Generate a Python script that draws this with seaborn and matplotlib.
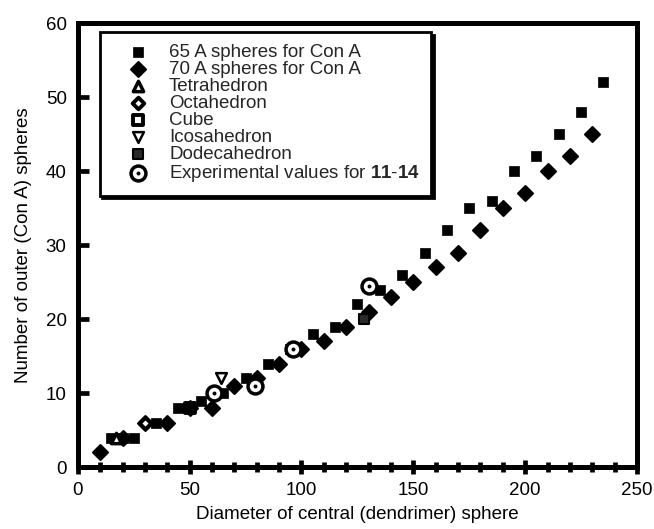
import matplotlib
matplotlib.use("Agg")
import matplotlib.pyplot as plt
from matplotlib.legend_handler import HandlerTuple
from matplotlib.ticker import MultipleLocator
import seaborn as sns

# Packing counts versus diameter of the central (dendrimer) sphere
con_a_65_x = [15, 20, 25, 35, 45, 55, 65, 75, 85, 95, 105, 115, 125, 135,
              145, 155, 165, 175, 185, 195, 205, 215, 225, 235]
con_a_65_y = [4, 4, 4, 6, 8, 9, 10, 12, 14, 16, 18, 19, 22, 24,
              26, 29, 32, 35, 36, 40, 42, 45, 48, 52]

con_a_70_x = [10, 20, 30, 40, 50, 60, 70, 80, 90, 100, 110, 120, 130, 140,
              150, 160, 170, 180, 190, 200, 210, 220, 230]
con_a_70_y = [2, 4, 6, 6, 8, 8, 11, 12, 14, 16, 17, 19, 21, 23,
              25, 27, 29, 32, 35, 37, 40, 42, 45]

tetra_x, tetra_y = [17], [4]
octa_x, octa_y = [30], [6]
cube_x, cube_y = [50], [8]
icosa_x, icosa_y = [64], [12]
dodeca_x, dodeca_y = [128], [20]

exp_x = [61, 79, 96, 130]
exp_y = [10, 11, 16, 24.5]

x_ticks = [0, 50, 100, 150, 200, 250]
y_ticks = [0, 10, 20, 30, 40, 50, 60]

sns.set_theme(style="white")
plt.rcParams["font.family"] = ["Liberation Sans", "DejaVu Sans"]
plt.rcParams["mathtext.fontset"] = "custom"
plt.rcParams["mathtext.bf"] = "Liberation Sans:bold"
plt.rcParams["mathtext.rm"] = "Liberation Sans"

FS = 13.5

fig = plt.figure(figsize=(6.54, 5.29), dpi=100)
ax = fig.add_axes([0.119, 0.117, 0.855, 0.839])

# cube drawn first so the filled markers at the same spot sit on top
sns.scatterplot(x=cube_x, y=cube_y, marker="s", color="white",
                edgecolor="black", linewidth=2.8, s=45, ax=ax,
                label="Cube", zorder=2)
sns.scatterplot(x=con_a_65_x, y=con_a_65_y, marker="s", color="black",
                edgecolor="black", linewidth=0.5, s=60, ax=ax,
                label="65 A spheres for Con A", zorder=3)
sns.scatterplot(x=con_a_70_x, y=con_a_70_y, marker="D", color="black",
                edgecolor="black", linewidth=1.5, s=58, ax=ax,
                label="70 A spheres for Con A", zorder=3)
sns.scatterplot(x=tetra_x, y=tetra_y, marker="^", color="white",
                edgecolor="black", linewidth=2.5, s=55, ax=ax,
                label="Tetrahedron", zorder=4)
sns.scatterplot(x=octa_x, y=octa_y, marker="D", color="white",
                edgecolor="black", linewidth=2.8, s=35, ax=ax,
                label="Octahedron", zorder=4)
sns.scatterplot(x=icosa_x, y=icosa_y, marker="v", color="white",
                edgecolor="black", linewidth=1.8, s=60, ax=ax,
                label="Icosahedron", zorder=4)
sns.scatterplot(x=dodeca_x, y=dodeca_y, marker="s", color="#2a2a2a",
                edgecolor="black", linewidth=1.5, s=60, ax=ax,
                label="Dodecahedron", zorder=4)
sns.scatterplot(x=exp_x, y=exp_y, marker="o", color="white",
                edgecolor="black", linewidth=2.5, s=115, ax=ax,
                label="exp", zorder=5)
sns.scatterplot(x=exp_x, y=exp_y, marker="o", color="black",
                edgecolor="black", linewidth=0, s=8, ax=ax, legend=False,
                zorder=6)

for coll in ax.collections:
    coll.set_joinstyle("round")

handles, labels = ax.get_legend_handles_labels()
order = ["65 A spheres for Con A", "70 A spheres for Con A", "Tetrahedron",
         "Octahedron", "Cube", "Icosahedron", "Dodecahedron", "exp"]
hmap = dict(zip(labels, handles))
dot = ax.scatter([], [], marker="o", color="black", s=8, linewidths=0)
leg_handles = [hmap[k] for k in order[:-1]] + [(hmap["exp"], dot)]
leg_labels = order[:-1] + [r"Experimental values for $\mathbf{11}$-$\mathbf{14}$"]

leg = ax.legend(leg_handles, leg_labels, loc="upper left",
                bbox_to_anchor=(0.039, 0.98),
                handler_map={tuple: HandlerTuple(ndivide=1, pad=0)},
                fontsize=FS, frameon=True, fancybox=False,
                shadow={"color": "black", "alpha": 1},
                labelspacing=0.0, handletextpad=0.2, borderpad=0.6,
                handlelength=2.9, borderaxespad=0.0, markerscale=1.0)
leg.get_frame().set_edgecolor("black")
leg.get_frame().set_linewidth(2.0)
leg.get_frame().set_facecolor("white")
leg.set_zorder(10)

ax.set_xlim(0, 250)
ax.set_ylim(0, 60)
ax.set_xticks(x_ticks)
ax.set_yticks(y_ticks)
ax.xaxis.set_minor_locator(MultipleLocator(10))

for side in ["left", "right", "top", "bottom"]:
    ax.spines[side].set_visible(True)
    ax.spines[side].set_color("black")
    ax.spines[side].set_linewidth(3.6)

ax.tick_params(axis="y", which="major", direction="in", length=8, width=3.4,
               color="black", labelsize=FS, pad=8, left=True)
ax.tick_params(axis="x", which="major", direction="inout", length=10,
               width=3.4, color="black", labelsize=FS, pad=6, bottom=True)
ax.tick_params(axis="x", which="minor", direction="inout", length=7,
               width=3.4, color="black", bottom=True)
ax.tick_params(labelcolor="black")

ax.set_xlabel("Diameter of central (dendrimer) sphere", fontsize=FS,
              color="black", labelpad=5)
ax.set_ylabel("Number of outer (Con A) spheres", fontsize=FS,
              color="black", labelpad=10)

fig.savefig("out.png", dpi=100, facecolor="white")
